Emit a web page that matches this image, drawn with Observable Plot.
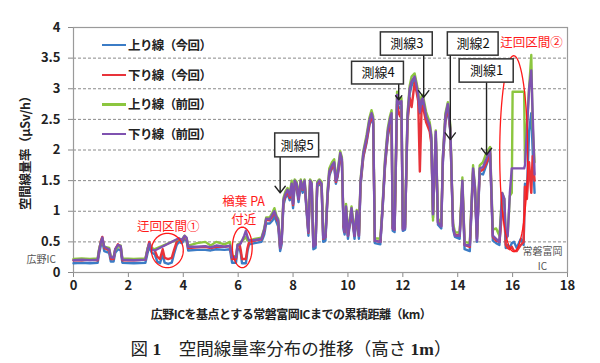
<!DOCTYPE html>
<html><head><meta charset="utf-8">
<script src="https://cdn.jsdelivr.net/npm/d3@7"></script>
<script src="https://cdn.jsdelivr.net/npm/@observablehq/plot@0.6"></script>
<style>
body{margin:0;background:#fff;}
#wrap{position:relative;width:600px;height:363px;font-family:"Noto Sans CJK JP","Noto Sans",sans-serif;color:#222;}
#wrap svg{position:absolute;left:0;top:0;}
.ov{position:absolute;white-space:nowrap;}
.leg{position:absolute;font-size:12.5px;font-weight:bold;letter-spacing:-0.6px;line-height:16px;}
.sw{position:absolute;height:2.5px;width:24px;}
</style></head><body><div id="wrap"></div>
<script>
// ---- data (km from 広野IC, µSv/h) ----
const km = [
 0.00,0.30,0.60,0.88,0.93,1.00,1.05,1.12,1.30,1.36,
 1.46,1.52,1.62,1.72,1.78,2.20,2.62,2.70,2.76,2.86,
 2.96,3.05,3.15,3.25,3.32,3.45,3.58,3.66,3.76,3.84,
 3.95,4.05,4.12,4.18,4.50,4.80,5.00,5.20,5.50,5.70,
 5.78,5.92,5.98,6.06,6.10,6.14,6.22,6.28,6.34,6.40,
 6.60,6.85,6.95,7.02,7.15,7.25,7.32,7.40,7.46,7.53,
 7.58,7.65,7.72,7.80,7.88,7.95,8.00,8.06,8.13,8.20,
 8.28,8.35,8.42,8.50,8.56,8.62,8.68,8.74,8.82,8.88,
 8.96,9.04,9.10,9.18,9.26,9.32,9.42,9.50,9.56,9.62,
 9.72,9.78,9.84,9.88,9.93,10.00,10.13,10.24,10.32,10.40,
 10.46,10.56,10.68,10.78,10.86,10.92,10.98,11.18,11.26,11.35,
 11.45,11.53,11.59,11.63,11.70,11.79,11.85,11.90,11.95,12.00,
 12.08,12.17,12.25,12.32,12.43,12.50,12.56,12.62,12.68,12.73,
 12.85,12.98,13.04,13.10,13.20,13.28,13.40,13.46,13.55,13.64,
 13.73,13.83,13.90,14.07,14.17,14.25,14.44,14.56,14.63,14.70,
 14.80,14.92,15.04,15.18,15.28,15.40,15.52,15.62,15.70,15.75,
 15.82,15.90,15.97,16.00,16.05,16.15,16.30,16.40,16.42,16.45,
 16.52,16.60,16.68,16.73,16.80
];
const upNow = [ // 上り線（今回）
 0.15,0.16,0.15,0.16,0.30,0.45,0.52,0.35,0.32,0.18,
 0.18,0.32,0.38,0.36,0.16,0.15,0.16,0.32,0.42,0.32,
 0.30,0.18,0.15,0.30,0.16,0.14,0.16,0.30,0.45,0.50,
 0.48,0.55,0.52,0.36,0.37,0.37,0.36,0.38,0.37,0.38,
 0.16,0.16,0.38,0.38,0.30,0.15,null,0.15,0.35,0.46,
 0.48,0.50,0.62,0.80,0.80,0.85,0.92,0.82,0.75,0.35,
 0.45,1.10,1.22,1.28,1.18,1.40,1.05,1.42,1.38,1.15,
 1.45,1.30,1.45,0.95,0.60,1.42,1.40,0.38,0.40,1.40,
 1.45,1.40,0.50,0.52,1.25,1.58,1.70,1.75,1.45,1.55,
 1.88,1.80,0.70,0.62,1.02,0.55,0.98,0.55,0.92,0.55,
 1.42,1.88,2.12,2.40,2.52,2.42,0.48,0.46,1.00,1.72,
 2.20,2.42,2.50,0.68,0.66,2.80,2.70,2.68,2.72,0.68,
 0.70,2.50,2.92,3.05,3.15,3.00,2.85,2.60,2.75,2.80,
 2.50,2.35,2.15,0.90,2.25,0.78,0.72,1.80,2.45,2.68,
 2.30,0.70,0.58,0.55,1.40,0.38,0.35,1.62,1.30,0.50,
 1.62,1.60,1.75,1.92,0.52,0.48,0.45,1.20,1.10,0.40,
 0.45,0.40,0.48,null,0.50,0.40,0.55,0.45,null,1.45,
 1.30,2.30,2.60,2.00,1.30
];
const downNow = [ // 下り線（今回）
 0.20,0.20,0.21,0.20,0.35,0.52,0.58,0.40,0.36,0.22,
 0.22,0.38,0.46,0.42,0.20,0.20,0.21,0.38,0.50,0.38,
 0.36,0.26,0.22,0.38,0.24,0.22,0.24,0.36,0.50,0.54,
 0.52,0.58,0.55,0.40,0.41,0.42,0.40,0.42,0.42,0.43,
 0.22,0.22,0.44,0.44,0.35,0.22,null,0.22,0.40,0.50,
 0.52,0.54,0.68,0.86,0.85,0.92,1.00,0.88,0.82,0.40,
 0.50,1.15,1.25,1.32,1.22,1.42,1.10,1.48,1.42,1.20,
 1.50,1.35,1.48,1.00,0.65,1.48,1.44,0.45,0.46,1.44,
 1.48,1.42,0.55,0.58,1.28,1.62,1.72,1.78,1.48,1.58,
 1.90,1.82,0.75,0.66,1.06,0.60,1.02,0.60,0.96,0.60,
 1.46,1.90,2.15,2.42,2.55,2.45,0.52,0.50,1.05,1.75,
 2.25,2.40,2.45,0.72,0.70,2.75,2.62,2.55,2.65,0.72,
 0.74,2.45,2.85,2.70,3.10,2.95,2.80,1.65,2.65,2.72,
 2.45,2.30,2.10,0.95,2.20,0.82,0.76,1.85,2.50,2.70,
 2.32,0.75,0.62,0.60,1.45,0.45,0.42,1.65,1.35,0.55,
 1.65,1.68,1.78,1.95,0.58,0.52,0.50,1.00,0.90,0.45,
 0.40,0.38,0.42,null,0.35,0.35,0.45,0.50,null,1.40,
 1.20,1.80,1.30,1.90,1.50
];
const upPrev = [ // 上り線（前回）
 0.22,0.23,0.22,0.23,0.38,0.50,0.55,0.42,0.40,0.26,
 0.25,0.37,0.42,0.44,0.23,0.22,0.23,0.40,0.46,0.40,
 0.38,null,null,null,null,null,null,null,null,0.55,
 0.54,0.60,0.56,0.44,0.48,0.50,0.44,0.50,0.46,0.50,
 0.26,0.27,0.46,0.47,0.50,null,0.55,0.58,0.52,0.52,
 0.55,0.57,0.72,0.90,0.90,0.98,1.05,0.92,0.88,0.42,
 0.55,1.22,1.32,1.38,1.30,1.50,1.18,1.52,1.48,1.25,
 1.52,1.40,1.52,1.05,0.70,1.52,1.48,0.48,0.50,1.48,
 1.52,1.48,0.62,0.64,1.35,1.70,1.80,1.85,1.55,1.65,
 1.98,1.88,0.80,0.72,1.12,0.66,1.08,0.65,1.02,0.64,
 1.52,1.98,2.25,2.52,2.65,2.55,0.56,0.55,1.10,1.85,
 2.35,2.55,2.65,0.78,0.75,2.95,2.82,2.80,2.85,0.76,
 0.78,2.60,3.05,3.20,3.25,3.10,2.95,2.70,2.88,2.90,
 2.62,2.45,2.25,0.85,2.32,0.88,0.80,1.92,2.60,2.78,
 2.40,0.80,0.66,0.65,1.55,0.50,0.48,1.75,1.40,0.58,
 1.75,1.80,1.95,2.05,0.70,0.72,0.60,1.30,1.20,0.55,
 0.60,1.25,1.30,2.95,null,null,null,null,2.95,1.80,
 2.40,3.00,3.55,2.40,1.80
];
const downPrev = [ // 下り線（前回）
 0.20,0.21,0.20,0.21,0.36,0.50,0.57,0.42,0.38,0.25,
 0.24,0.38,0.45,0.43,0.21,0.20,0.21,0.38,0.47,0.37,
 0.36,null,null,null,null,null,null,null,null,0.56,
 0.53,0.60,0.57,0.42,0.42,0.43,0.41,0.44,0.42,0.44,
 0.25,0.25,0.45,0.46,0.48,null,0.60,0.68,0.58,0.52,
 0.53,0.55,0.70,0.88,0.87,0.95,1.00,0.90,0.85,0.40,
 0.50,1.18,1.28,1.35,1.25,1.45,1.12,1.50,1.45,1.20,
 1.50,1.36,1.50,1.00,0.66,1.50,1.45,0.42,0.45,1.45,
 1.50,1.45,0.56,0.58,1.30,1.65,1.75,1.80,1.50,1.60,
 1.95,1.85,0.75,0.66,1.08,0.60,1.05,0.60,1.00,0.60,
 1.50,1.95,2.20,2.48,2.60,2.50,0.52,0.50,1.05,1.80,
 2.30,2.50,2.60,0.72,0.70,2.90,2.78,2.75,2.80,0.70,
 0.72,2.55,3.00,3.12,3.20,3.05,2.90,2.62,2.82,2.85,
 2.55,2.40,2.20,0.95,2.30,0.82,0.75,1.88,2.55,2.75,
 2.35,0.75,0.60,0.60,1.50,0.45,0.44,1.70,1.38,0.52,
 1.70,1.72,1.85,2.00,0.60,0.55,0.50,1.30,1.20,0.55,
 0.60,1.30,1.70,null,null,null,null,null,1.70,1.75,
 2.30,3.00,3.30,2.60,1.60
];
const seriesNames = ["上り線（今回）","下り線（今回）","上り線（前回）","下り線（前回）"];
const seriesColors = ["#3b7cc6","#e8333a","#8cc63f","#7f52b0"];
const xTicks = [0,2,4,6,8,10,12,14,16,18];
const yTicks = [0,0.5,1,1.5,2,2.5,3,3.5,4];
const gridTicks = [0.5,1,1.5,2,2.5,3,3.5];

// annotations (data units)
const boxLabels = ["測線5","測線4","測線3","測線2","測線1"];
const boxX1 = [7.35,10.15,11.20,13.64,14.07];
const boxX2 = [8.95,12.04,13.09,15.49,16.04];
const boxY1 = [1.88,3.07,3.54,3.54,3.10];
const boxY2 = [2.27,3.44,3.92,3.92,3.48];
const arrowX = [7.53,11.85,12.76,13.73,15.05];
const arrowTipY = [1.30,2.82,2.86,2.17,1.92];
const ellipseCX = [3.42,6.15,16.04];
const ellipseCY = [0.36,0.41,1.94];
const ellipseRX = [0.58,0.36,0.51];
const ellipseRY = [0.28,0.33,1.60];
const redLabels = ["迂回区間①","楢葉 PA","付近","迂回区間②"];
const redX = [3.45,6.20,6.20,16.69];
const redY = [0.75,1.145,0.86,3.74];
const grayLabels = ["広野IC","常磐富岡","IC"];
const grayX = [-1.18,17.09,17.09];
const grayY = [0.21,0.33,0.10];

// ---- build ----
const allValues = [upNow, downNow, upPrev, downPrev];
const seriesRows = allValues.map(vals => km.map((k,i)=>({km:k, v:vals[i]})).filter(d => d.v != null && d.v !== undefined));
const boxes = boxLabels.map((t,i)=>({t, x1:boxX1[i], x2:boxX2[i], y1:boxY1[i], y2:boxY2[i], ax:arrowX[i], ay:arrowTipY[i]}));
const ellipses = [];
ellipseCX.forEach((cx,i)=>{
  for (let a=0;a<=72;a++){
    const th = a/72*2*Math.PI;
    ellipses.push({id:i, x: cx + ellipseRX[i]*Math.cos(th), y: ellipseCY[i] + ellipseRY[i]*Math.sin(th)});
  }
});
const reds = redLabels.map((t,i)=>({t, x:redX[i], y:redY[i]}));
const grays = grayLabels.map((t,i)=>({t, x:grayX[i], y:grayY[i]}));

const chart = Plot.plot({
  width: 600, height: 300,
  marginTop: 27, marginBottom: 28, marginLeft: 73, marginRight: 33,
  style: {fontFamily: '"Noto Sans CJK JP","Noto Sans",sans-serif', fontSize: "13px", fontWeight: "bold", color: "#222", background: "transparent", overflow: "visible"},
  x: {domain: [0,18], ticks: xTicks, tickSize: 5, tickPadding: 3, label: null, tickFormat: d => String(d)},
  y: {domain: [0,4], ticks: yTicks, tickSize: 5, tickPadding: 8, label: null, tickFormat: d => String(d)},
  marks: [
    Plot.ruleY(gridTicks, {stroke: "#8a8a8a", strokeWidth: 1, strokeDasharray: "3,2"}),
    Plot.frame({stroke: "#9a9a9a", strokeWidth: 1.2}),
    ...seriesRows.map((rows,i) => Plot.line(rows, {x: "km", y: "v", stroke: seriesColors[i], strokeWidth: 2.4, strokeLinejoin: "round"})),
    Plot.line(ellipses, {x: "x", y: "y", z: "id", stroke: "#ff1a1a", strokeWidth: 1.3}),
    Plot.arrow(boxes, {x1: "ax", x2: "ax", y1: "y1", y2: "ay", stroke: "#222", strokeWidth: 1.4, headLength: 9, headAngle: 75}),
    Plot.rect(boxes, {x1: "x1", x2: "x2", y1: "y1", y2: "y2", fill: "white", stroke: "#333", strokeWidth: 1.5}),
    Plot.text(boxes, {x: d => (d.x1+d.x2)/2, y: d => (d.y1+d.y2)/2, text: "t", fontSize: 13, fontWeight: "normal", fill: "#111"}),
    Plot.text(reds, {x: "x", y: "y", text: "t", fontSize: 12.5, fontWeight: "normal", fill: "#ff1a1a", lineHeight: 1}),
    Plot.text(grays, {x: "x", y: "y", text: "t", fontSize: 10, fontWeight: "normal", fill: "#555"})
  ]
});
const wrap = document.getElementById("wrap");
wrap.appendChild(chart);
d3.select(chart).selectAll('[aria-label$="tick"] path, [aria-label$="tick"] line').attr("stroke", "#8a8a8a");

// legend
seriesNames.forEach((n,i)=>{
  const y = 45 + i*29.7;
  const sw = document.createElement("div");
  sw.className = "sw"; sw.style.left = "102px"; sw.style.top = (y-1.2)+"px"; sw.style.background = seriesColors[i];
  wrap.appendChild(sw);
  const t = document.createElement("div");
  t.className = "leg"; t.style.left = "128px"; t.style.top = (y-8)+"px"; t.textContent = n;
  wrap.appendChild(t);
});
// axis titles and caption
const yl = document.createElement("div");
yl.className = "ov";
yl.style.cssText += "left:24px;top:150px;transform:translate(-50%,-50%) rotate(-90deg);font-size:12.5px;font-weight:bold;letter-spacing:-0.3px;";
yl.textContent = "空間線量率（μSv/h）";
wrap.appendChild(yl);
const xl = document.createElement("div");
xl.className = "ov";
xl.style.cssText += "left:291px;top:313px;transform:translate(-50%,-50%);font-size:12px;font-weight:bold;letter-spacing:-0.5px;";
xl.textContent = "広野ICを基点とする常磐富岡ICまでの累積距離（km）";
wrap.appendChild(xl);
const cap = document.createElement("div");
cap.className = "ov";
cap.style.cssText += "left:291px;top:347px;transform:translate(-50%,-50%);font-size:17.5px;font-family:'Liberation Serif','Noto Sans CJK JP',serif;";
cap.innerHTML = "図 <b>1</b>　空間線量率分布の推移（高さ <b>1m</b>）";
wrap.appendChild(cap);
</script></body></html>
